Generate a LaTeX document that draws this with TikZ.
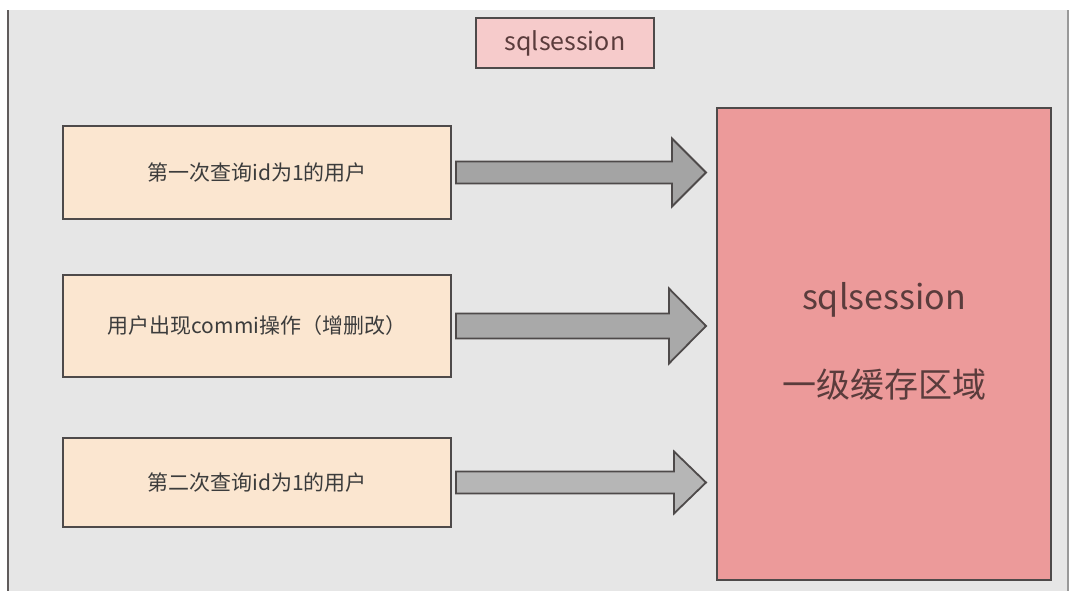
\documentclass[tikz,border=0pt]{standalone}
\usepackage{fontspec}
\setmainfont{Noto Sans CJK SC}
\usetikzlibrary{calc}
\definecolor{bggray}{HTML}{E6E6E6}
\definecolor{peach}{HTML}{FBE6D0}
\definecolor{pinklight}{HTML}{F6CBCB}
\definecolor{salmon}{HTML}{EC9A9A}
\definecolor{edgegray}{HTML}{4E4A4A}
\definecolor{txtgray}{HTML}{3C3C3C}
\definecolor{txtred}{HTML}{5A3C3C}
\definecolor{arrA}{HTML}{A4A4A4}
\definecolor{arrB}{HTML}{A9A9A9}
\definecolor{arrC}{HTML}{B6B6B6}
\tikzset{
  stepbox/.style={draw=edgegray, line width=2pt, fill=peach, rectangle, inner sep=0pt,
    minimum width=388pt, text=txtgray, font=\fontsize{21}{25}\selectfont},
  titlebox/.style={draw=edgegray, line width=2pt, fill=pinklight, rectangle, inner sep=0pt,
    minimum width=178pt, minimum height=50pt, text=txtred, font=\fontsize{25}{30}\selectfont},
  cachebox/.style={draw=edgegray, line width=2pt, fill=salmon, rectangle, inner sep=0pt,
    minimum width=334pt, minimum height=472pt},
  cachetext/.style={text=txtred, inner sep=0pt, font=\fontsize{34}{40}\selectfont},
  fatarr/.style={draw=edgegray, line width=1.8pt, line join=miter}
}
% #1 style, #2 from node, #3 to node, #4 shaft half height, #5 head half height, #6 head length
\newcommand{\fatarrow}[6][]{%
  \draw[fatarr,#1] ($(#2.east)+(4,-#4)$) -- ($(#3.west|-#2.east)+(-10-#6,-#4)$)
    -- ($(#3.west|-#2.east)+(-10-#6,-#5)$) -- ($(#3.west|-#2.east)+(-10,0)$)
    -- ($(#3.west|-#2.east)+(-10-#6,#5)$) -- ($(#3.west|-#2.east)+(-10-#6,#4)$)
    -- ($(#2.east)+(4,#4)$) -- cycle;}
\begin{document}
\begin{tikzpicture}[x=1pt,y=-1pt]
\useasboundingbox (0,0) rectangle (1080,597);
\fill[white] (0,0) rectangle (1080,597);
\fill[bggray] (8,10) rectangle (1068,591);
\draw[line width=2pt, draw=edgegray!90] (8,10) -- (8,591);
\draw[line width=2pt, draw=gray!80] (1068,10) -- (1068,591);

\node[titlebox] (title) at (565,43) {sqlsession};

\node[stepbox, minimum height=93pt] (b1) at (257,172.5) {第一次查询id为1的用户};
\node[stepbox, minimum height=102pt] (b2) at (257,326) {用户出现commi操作（增删改）};
\node[stepbox, minimum height=89pt] (b3) at (257,482.5) {第二次查询id为1的用户};

\node[cachebox] (big) at (884,344) {};
\node[cachetext] (bigA) at (884,300) {sqlsession};
\node[cachetext] (bigB) at (884,385) {一级缓存区域};

\fatarrow[fill=arrA]{b1}{big}{11}{34}{34}
\fatarrow[fill=arrB]{b2}{big}{12.5}{37.5}{37}
\fatarrow[fill=arrC]{b3}{big}{11}{31}{32}
\end{tikzpicture}
\end{document}
